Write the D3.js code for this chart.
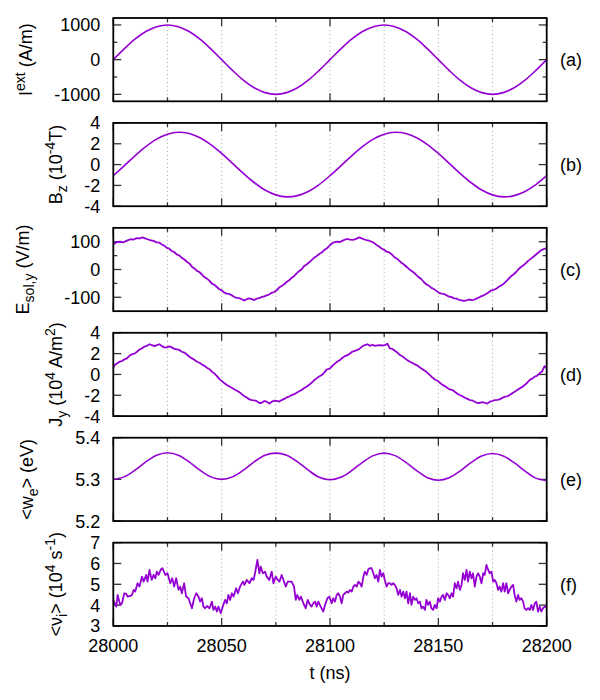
<!DOCTYPE html>
<html>
<head>
<meta charset="utf-8">
<script src="https://cdn.jsdelivr.net/npm/d3@7"></script>
<style>
  html, body { margin: 0; padding: 0; background: #fff; }
  svg { display: block; font-family: "Liberation Sans", Arial, sans-serif; }
</style>
</head>
<body>
<div id="chart"></div>
<script>
"use strict";

// time offsets are relative to 28000 ns
const T0 = 28000;
const xDomain = [28000, 28200];
const xMajorTicks = [28000, 28050, 28100, 28150, 28200];
const xGridTicks = [28025, 28050, 28075, 28100, 28125, 28150, 28175];
const xMinorTicks = [28025, 28075, 28125, 28175];

// (a), (b), (e) are smooth: sampled every 5 ns
const smoothTime = [0, 5, 10, 15, 20, 25, 30, 35, 40, 45, 50, 55, 60, 65, 70, 75, 80, 85, 90, 95,
  100, 105, 110, 115, 120, 125, 130, 135, 140, 145, 150, 155, 160, 165, 170, 175, 180, 185, 190, 195, 200];
const iExt = [0, 310, 590, 810, 950, 1000, 950, 810, 590, 310, 0, -310, -590, -810, -950, -1000, -950, -810, -590, -310,
  0, 310, 590, 810, 950, 1000, 950, 810, 590, 310, 0, -310, -590, -810, -950, -1000, -950, -810, -590, -310, 0];
const bZ = [-1.07, -0.12, 0.84, 1.72, 2.44, 2.91, 3.10, 2.98, 2.58, 1.92, 1.07, 0.12, -0.84, -1.72, -2.44, -2.91, -3.10, -2.98, -2.58, -1.92,
  -1.07, -0.12, 0.84, 1.72, 2.44, 2.91, 3.10, 2.98, 2.58, 1.92, 1.07, 0.12, -0.84, -1.72, -2.44, -2.91, -3.10, -2.98, -2.58, -1.92, -1.07];
const wE = [5.300, 5.306, 5.322, 5.342, 5.358, 5.364, 5.358, 5.342, 5.322, 5.306, 5.300, 5.306, 5.322, 5.342, 5.358, 5.363, 5.358, 5.342, 5.322, 5.305,
  5.299, 5.305, 5.321, 5.341, 5.357, 5.363, 5.357, 5.341, 5.321, 5.304, 5.298, 5.304, 5.320, 5.340, 5.356, 5.362, 5.356, 5.340, 5.320, 5.303, 5.297];

// (c) E_sol,y
const eSolTime = [0, 1.6, 3.2, 4.7, 6.3, 7.9, 9.4, 10.9, 12.4, 13.5, 14.7, 15.8, 17, 18.5, 20, 21.2, 22.4, 23.5, 24.7, 25.8,
  27, 28.1, 29.3, 30.4, 31.6, 32.7, 33.9, 35.1, 36.3, 37.4, 38.6, 39.7, 40.9, 42, 43.2, 44.3, 45.5, 46.6, 47.8, 48.9,
  50.1, 51.2, 52.4, 53.5, 54.7, 55.8, 57, 58.1, 59.3, 60.4, 61.6, 62.7, 63.9, 65, 66.2, 67.3, 68.5, 69.6, 70.8, 71.9,
  73.1, 74.2, 75.4, 76.5, 77.7, 78.8, 80, 81.1, 82.3, 83.4, 84.6, 85.7, 86.9, 88, 89.2, 90.3, 91.5, 92.6, 93.8, 95,
  96.2, 97.3, 98.5, 99.2,
  100, 101.5, 103.1, 104.6, 106.1, 107.7, 109.2, 110.7, 112.3, 113.4, 114.6, 115.7, 116.9, 118, 119.2, 120.3, 121.5, 122.6, 123.8, 124.9,
  126.1, 127.2, 128.4, 129.5, 130.7, 131.8, 133, 134.1, 135.3, 136.4, 137.6, 138.7, 139.9, 141, 142.2, 143.3, 144.5, 145.6, 146.8, 147.9,
  149.1, 150.3, 151.5, 152.6, 153.8, 154.9, 156.1, 157.2, 158.4, 159.5, 160.7, 161.8, 163, 164.1, 165.3, 166.4, 167.6, 168.7, 169.9, 171,
  172.2, 173.3, 174.5, 175.6, 176.8, 177.9, 179.1, 180.2, 181.4, 182.5, 183.7, 184.8, 186, 187.1, 188.3, 189.4, 190.6, 191.7, 192.9, 194,
  195.2, 196.3, 197.5, 198.7, 200];
const eSol = [90, 99, 100, 98, 104, 109, 108, 113, 112, 116, 112, 109, 106, 103, 98, 97, 90, 86, 78, 75,
  66, 63, 54, 51, 42, 37, 28, 22, 10, 4, -5, -9, -18, -27, -33, -40, -51, -55, -63, -71,
  -75, -83, -87, -88, -93, -99, -102, -103, -107, -111, -107, -104, -107, -110, -105, -103, -99, -97, -93, -90,
  -84, -81, -75, -65, -59, -53, -45, -39, -30, -24, -14, -6, 1, 12, 18, 25, 34, 42, 48, 56,
  61, 70, 76, 81,
  88, 97, 100, 99, 105, 110, 108, 107, 111, 116, 112, 109, 106, 104, 100, 96, 88, 83, 76, 71,
  64, 62, 55, 46, 40, 33, 24, 18, 10, 2, -5, -11, -20, -28, -35, -45, -54, -58, -66, -70,
  -77, -84, -87, -88, -93, -98, -99, -104, -105, -109, -111, -113, -111, -108, -110, -109, -105, -101, -96, -93,
  -87, -82, -75, -73, -69, -62, -57, -51, -42, -33, -23, -17, -8, 2, 10, 16, 25, 33, 40, 47,
  55, 62, 70, 74, 76];

// (d) J_y
const jyTime = [0, 0.9, 1.7, 2.9, 4, 5.2, 6.3, 7.5, 8.6, 9.8, 10.9, 12.1, 13.2, 14.4, 15.5, 16.7, 17.8, 19, 20.1, 21.3,
  22.4, 23.6, 24.7, 25.9, 27, 28.2, 29.3, 30.5, 31.6, 32.8, 33.9, 35.1, 36.3, 37.5, 38.6, 39.8, 40.9, 42.1, 43.2, 44.4,
  45.5, 46.7, 47.8, 49, 50.1, 51.3, 52.4, 53.6, 54.7, 55.9, 57, 58.2, 59.3, 60.5, 61.6, 62.8, 63.9, 65.1, 66.2, 67.4,
  68.5, 69.7, 70.8, 72, 73.1, 74.3, 75.4, 76.6, 77.7, 78.9, 80, 81.2, 82.3, 83.5, 84.6, 85.8, 86.9, 88.1, 89.2, 90.4,
  91.5, 92.7, 93.8, 95, 96.2, 97.4, 98.5, 99.3,
  100, 101.2, 102.3, 103.5, 104.6, 105.8, 106.9, 108.1, 109.2, 110.4, 111.5, 112.7, 113.8, 115, 116.1, 117.3, 118.4, 119.6, 120.7, 121.9,
  123, 124.2, 125.3, 126.5, 127.6, 128.8, 129.9, 131.1, 132.3, 133.5, 134.6, 135.8, 136.9, 138.1, 139.2, 140.4, 141.5, 142.7, 143.8, 145,
  146.1, 147.3, 148.4, 149.6, 150.7, 151.9, 153, 154.2, 155.3, 156.5, 157.6, 158.8, 159.9, 161.1, 162.2, 163.4, 164.5, 165.7, 166.8, 168,
  169.1, 170.3, 171.4, 172.6, 173.7, 174.9, 176, 177.2, 178.3, 179.5, 180.6, 181.8, 182.9, 184.1, 185.2, 186.4, 187.5, 188.7, 189.8, 191,
  192.1, 193.3, 194.4, 195.6, 196.7, 197.9, 199, 200];
const jy = [0.67, 0.95, 1.06, 1.22, 1.28, 1.45, 1.54, 1.8, 1.95, 2.0, 2.18, 2.4, 2.5, 2.68, 2.75, 2.9, 2.82, 2.72, 2.82, 2.9,
  2.72, 2.6, 2.6, 2.7, 2.6, 2.45, 2.4, 2.35, 2.18, 2.1, 1.92, 1.7, 1.54, 1.4, 1.22, 1.12, 0.96, 0.82, 0.64, 0.5,
  0.26, 0.08, -0.16, -0.45, -0.64, -0.85, -1.02, -1.15, -1.28, -1.45, -1.57, -1.7, -1.89, -2.1, -2.21, -2.4, -2.46, -2.5, -2.56, -2.75,
  -2.72, -2.55, -2.62, -2.8, -2.62, -2.52, -2.53, -2.6, -2.46, -2.35, -2.21, -2.12, -1.98, -1.9, -1.76, -1.62, -1.5, -1.3, -1.18, -1.0,
  -0.8, -0.55, -0.38, -0.2, -0.06, 0.2, 0.48, 0.52,
  0.58, 0.85, 1.06, 1.25, 1.38, 1.6, 1.76, 1.85, 2.02, 2.2, 2.27, 2.35, 2.5, 2.7, 2.82, 2.9, 2.75, 2.85, 2.75, 2.8,
  2.82, 2.78, 2.82, 2.95, 2.5, 2.45, 2.27, 2.1, 1.86, 1.72, 1.54, 1.35, 1.22, 1.1, 0.96, 0.85, 0.67, 0.5, 0.35, 0.15,
  -0.06, -0.3, -0.48, -0.6, -0.8, -1.0, -1.12, -1.3, -1.44, -1.5, -1.66, -1.85, -1.98, -2.1, -2.24, -2.35, -2.46, -2.5, -2.62, -2.75,
  -2.72, -2.65, -2.72, -2.8, -2.62, -2.55, -2.46, -2.45, -2.4, -2.25, -2.14, -2.1, -1.98, -1.8, -1.66, -1.5, -1.34, -1.2, -1.02, -0.8,
  -0.54, -0.4, -0.22, -0.12, 0.1, 0.3, 0.8, 0.6];

// (f) <nu_i>
const nuTime = [0, 1.4, 2, 3.2, 4, 5.1, 6, 6.6, 7.8, 8.6, 9.4, 10.1, 11.2, 12.1, 13.2, 14, 15.2, 15.8, 16.7, 17.7,
  18.6, 19.4, 20.1, 20.9, 22, 22.7, 24, 25, 26.3, 27.2, 28.1, 29, 30.1, 30.9, 31.6, 32.7, 33.6, 34.7, 36.3, 37.3,
  38.3, 39.3, 40.1, 40.9, 41.6, 42.4, 43.2, 44.4, 45.5, 46.2, 47, 47.8, 48.5, 49.6, 50.5, 51.6, 52.4, 53.1, 53.9, 54.7,
  55.5, 56.7, 57.5, 58.5, 59.8, 60.5, 61.6, 62.8, 63.9, 64.7, 65.4, 66.5, 67.4, 68, 69, 70, 70.8, 72, 73.1, 73.9,
  75, 75.9, 76.7, 77.7, 78.5, 79.6, 80.5, 82.3, 83.4, 84.2, 84.9, 85.9, 86.6, 87.7, 88.8, 89.7, 90.8, 91.5, 92.3, 93.1,
  93.8, 94.6, 95.7, 96.9, 97.7, 98.8, 99.7,
  100.8, 101.5, 102.3, 103.1, 103.8, 104.6, 105.4, 106.1, 106.9, 107.7, 108.4, 109.2, 110, 110.8, 111.5, 112.3, 113.1, 113.8, 114.6,
  115.4, 116.1, 116.9, 117.7, 118.4, 119.2, 120, 120.7, 121.5, 122.3, 123, 123.8, 124.6, 125.3, 126.1, 126.9, 127.6, 128.4, 129.2,
  129.9, 130.7, 131.5, 132.3, 133, 133.8, 134.6, 135.3, 136.1, 136.9, 137.6, 138.4, 139.2, 139.9, 140.7, 141.5, 142.2, 143, 143.8,
  144.5, 145.3, 146.1, 146.8, 147.6, 148.4, 149.2, 149.9, 150.7, 151.5, 152.2, 153, 153.8, 154.5, 155.3, 156.1, 156.8, 157.6, 158.4,
  159.1, 159.9, 160.7, 161.4, 162.2, 163, 163.7, 164.5, 165.3, 166, 166.8, 167.6, 168.4, 169.1, 169.9, 170.7, 171.4, 172.2, 173,
  173.7, 174.5, 175.3, 176, 176.8, 177.6, 178.3, 179.1, 179.9, 180.6, 181.4, 182.2, 182.9, 183.7, 184.5, 185.2, 186, 186.8, 187.5,
  188.3, 189.1, 189.8, 190.6, 191.4, 192.2, 192.9, 193.7, 194.5, 195.2, 196, 196.8, 197.5, 198.3, 199.1, 200];
const nu = [4.25, 3.93, 4.49, 4.01, 4.09, 4.57, 4.54, 4.41, 4.44, 4.49, 4.73, 4.65, 5.05, 4.89, 5.37, 5.13, 5.45, 5.13, 5.69, 5.21,
  5.45, 5.29, 5.61, 5.45, 5.72, 5.77, 5.45, 5.53, 5.05, 5.29, 4.89, 5.29, 4.73, 4.89, 4.57, 5.05, 4.41, 4.33, 3.85, 4.33,
  4.57, 4.41, 4.17, 4.33, 3.93, 3.85, 3.96, 3.85, 4.17, 3.77, 3.93, 3.69, 3.93, 3.61, 3.93, 4.25, 4.09, 4.49, 4.25, 4.57,
  4.41, 4.81, 4.57, 4.89, 5.13, 4.97, 5.21, 5.05, 5.29, 5.21, 5.53, 6.17, 5.53, 5.85, 5.53, 5.61, 5.37, 5.21, 5.61, 5.05,
  5.37, 5.21, 5.13, 5.45, 5.21, 4.89, 5.13, 5.13, 4.89, 4.25, 4.49, 4.25, 4.41, 4.09, 3.85, 4.25, 4.01, 3.93, 4.09, 4.17,
  3.93, 4.17, 3.93, 3.69, 4.01, 4.33, 4.41,
  4.09, 4.33, 4.17, 4.49, 4.57, 4.41, 4.09, 4.49, 4.57, 4.65, 4.6, 4.73, 4.65, 4.89, 4.97, 4.89, 5.13, 5.05, 4.89,
  5.37, 5.61, 5.45, 5.72, 5.77, 5.77, 5.53, 5.29, 5.45, 5.13, 5.69, 5.37, 5.53, 5.21, 4.89, 5.05, 5.05, 4.97, 5.05,
  4.97, 4.81, 4.49, 4.73, 4.41, 4.65, 4.33, 4.65, 4.09, 4.57, 4.01, 4.41, 4.25, 4.33, 4.09, 4.17, 3.85, 3.93, 3.77,
  4.25, 4.01, 4.17, 3.85, 3.77, 4.01, 3.85, 4.33, 4.17, 4.41, 4.49, 4.25, 4.57, 4.49, 4.33, 4.57, 4.41, 5.05, 4.81,
  5.13, 4.73, 4.97, 5.53, 5.21, 5.69, 5.13, 5.61, 5.29, 5.53, 4.89, 5.37, 5.53, 5.37, 5.05, 5.53, 5.45, 5.93, 5.69,
  5.53, 5.61, 5.13, 5.21, 5.05, 4.73, 4.89, 4.65, 5.05, 4.65, 5.05, 4.57, 4.73, 4.89, 4.97, 4.49, 4.17, 4.49, 4.25,
  4.33, 4.17, 3.85, 3.77, 3.85, 3.77, 4.01, 3.77, 4.09, 4.17, 3.69, 3.93, 3.69, 3.85, 3.93, 3.9];

const panels = [
  { tag: "(a)", time: smoothTime, values: iExt, domain: [-1200, 1200], major: [-1000, 0, 1000], minor: [-500, 500],
    title: [["I"], ["ext", "sup"], [" (A/m)"]], titleX: 32, smooth: true },
  { tag: "(b)", time: smoothTime, values: bZ, domain: [-4, 4], major: [-4, -2, 0, 2, 4], minor: [],
    title: [["B"], ["z", "sub"], [" (10"], ["-4", "sup"], ["T)"]], titleX: 62, smooth: true },
  { tag: "(c)", time: eSolTime, values: eSol, domain: [-150, 150], major: [-100, 0, 100], minor: [-50, 50],
    title: [["E"], ["sol,y", "sub"], [" (V/m)"]], titleX: 29 },
  { tag: "(d)", time: jyTime, values: jy, domain: [-4, 4], major: [-4, -2, 0, 2, 4], minor: [],
    title: [["J"], ["y", "sub"], [" (10"], ["4", "sup"], [" A/m"], ["2", "sup"], [")"]], titleX: 62 },
  { tag: "(e)", time: smoothTime, values: wE, domain: [5.2, 5.4], major: [5.2, 5.3, 5.4], minor: [],
    title: [["<w"], ["e", "sub"], ["> (eV)"]], titleX: 33, fmt: d3.format(".1f"), smooth: true },
  { tag: "(f)", time: nuTime, values: nu, domain: [3, 7], major: [3, 4, 5, 6, 7], minor: [],
    title: [["<ν"], ["i", "sub"], ["> (10"], ["4", "sup"], [" s"], ["-1", "sup"], [")"]], titleX: 62 },
];

const width = 600;
const height = 700;
const plotLeft = 113.3;
const plotRight = 546.7;
const panelTop = 18;
const panelStep = 104.93;
const panelHeight = 83.3;
const lineColor = "#9400D3";
const majorLen = 8;
const minorLen = 4;
const fontSize = 18;

const svg = d3.select("#chart")
  .append("svg")
  .attr("width", width)
  .attr("height", height)
  .attr("viewBox", `0 0 ${width} ${height}`);

const x = d3.scaleLinear().domain(xDomain).range([plotLeft, plotRight]);

panels.forEach((panel, index) => {
  const top = panelTop + index * panelStep;
  const bottom = top + panelHeight;
  const mid = (top + bottom) / 2;
  const y = d3.scaleLinear().domain(panel.domain).range([bottom, top]);
  const g = svg.append("g").attr("class", "panel");

  // dotted vertical grid
  g.selectAll("line.grid")
    .data(xGridTicks)
    .join("line")
    .attr("x1", (t) => x(t))
    .attr("x2", (t) => x(t))
    .attr("y1", top)
    .attr("y2", bottom)
    .attr("stroke", "#a8a8a8")
    .attr("stroke-width", 1)
    .attr("stroke-dasharray", "1,3");

  // x ticks, mirrored top and bottom
  const xTickData = xMajorTicks.map((t) => [t, majorLen]).concat(xMinorTicks.map((t) => [t, minorLen]));
  [[bottom, -1], [top, 1]].forEach(([edge, dir]) => {
    g.selectAll(null)
      .data(xTickData)
      .join("line")
      .attr("x1", (d) => x(d[0]))
      .attr("x2", (d) => x(d[0]))
      .attr("y1", edge)
      .attr("y2", (d) => edge + dir * d[1])
      .attr("stroke", "#333")
      .attr("stroke-width", 1.3);
  });

  // y ticks, mirrored left and right
  const yTickData = panel.major.map((v) => [v, majorLen]).concat(panel.minor.map((v) => [v, minorLen]));
  [[plotLeft, 1], [plotRight, -1]].forEach(([edge, dir]) => {
    g.selectAll(null)
      .data(yTickData)
      .join("line")
      .attr("x1", edge)
      .attr("x2", (d) => edge + dir * d[1])
      .attr("y1", (d) => y(d[0]))
      .attr("y2", (d) => y(d[0]))
      .attr("stroke", "#333")
      .attr("stroke-width", 1.3);
  });

  // y tick labels
  const fmt = panel.fmt || ((v) => String(v));
  g.selectAll("text.ytick")
    .data(panel.major)
    .join("text")
    .attr("x", plotLeft - 13)
    .attr("y", (v) => y(v))
    .attr("dy", "0.36em")
    .attr("text-anchor", "end")
    .attr("font-size", fontSize)
    .attr("fill", "#000")
    .text((v) => fmt(v));

  // data line
  const rows = panel.time.map((t, i) => ({ t: T0 + t, v: panel.values[i] }));
  const line = d3.line()
    .x((d) => x(d.t))
    .y((d) => y(d.v));
  if (panel.smooth) line.curve(d3.curveCatmullRom);
  g.append("path")
    .datum(rows)
    .attr("fill", "none")
    .attr("stroke", lineColor)
    .attr("stroke-width", panel.smooth ? 1.6 : 1.8)
    .attr("stroke-linejoin", "round")
    .attr("d", line);

  // frame
  g.append("rect")
    .attr("x", plotLeft)
    .attr("y", top)
    .attr("width", plotRight - plotLeft)
    .attr("height", panelHeight)
    .attr("fill", "none")
    .attr("stroke", "#000")
    .attr("stroke-width", 1.8);

  // panel tag
  g.append("text")
    .attr("x", 560)
    .attr("y", mid)
    .attr("dy", "0.36em")
    .attr("font-size", fontSize)
    .text(panel.tag);

  // rotated y title with sub/superscripts
  const title = g.append("text")
    .attr("transform", `translate(${panel.titleX},${mid}) rotate(-90)`)
    .attr("text-anchor", "middle")
    .attr("font-size", fontSize);
  let shift = 0;
  panel.title.forEach(([str, kind]) => {
    const target = kind === "sub" ? 5 : kind === "sup" ? -7 : 0;
    title.append("tspan")
      .attr("dy", target - shift)
      .attr("font-size", kind ? 14 : fontSize)
      .text(str);
    shift = target;
  });

  // x tick labels only under the last panel
  if (index === panels.length - 1) {
    g.selectAll("text.xtick")
      .data(xMajorTicks)
      .join("text")
      .attr("x", (t) => x(t))
      .attr("y", 652)
      .attr("text-anchor", "middle")
      .attr("font-size", fontSize)
      .text((t) => t);

    g.append("text")
      .attr("x", (plotLeft + plotRight) / 2)
      .attr("y", 679)
      .attr("text-anchor", "middle")
      .attr("font-size", fontSize)
      .text("t (ns)");
  }
});
</script>
</body>
</html>
